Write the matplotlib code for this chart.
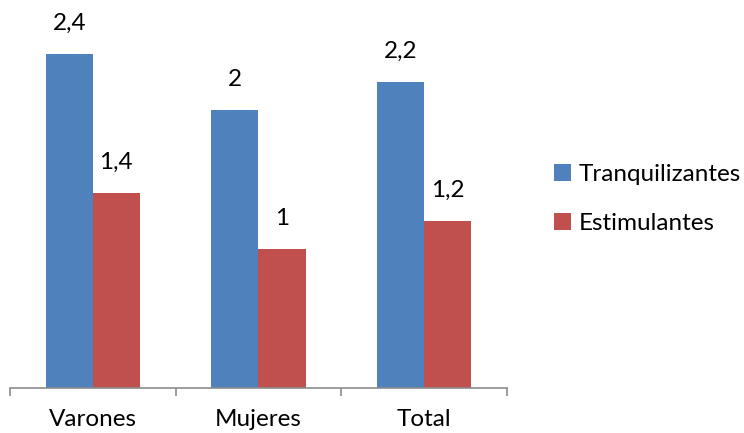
import matplotlib.pyplot as plt
import numpy as np

plt.rcParams['font.family'] = ['Lato', 'DejaVu Sans']

categorias = ["Varones", "Mujeres", "Total"]
tranquilizantes = [2.4, 2.0, 2.2]
estimulantes = [1.4, 1.0, 1.2]
etiquetas_t = ["2,4", "2", "2,2"]
etiquetas_e = ["1,4", "1", "1,2"]

azul = "#4f81bd"
rojo = "#c0504d"

fig = plt.figure(figsize=(7.44, 4.33), dpi=100)
ax = fig.add_axes([10 / 744, 45 / 433, 497 / 744, 388 / 433])

x = np.arange(len(categorias))
w = 0.284
b1 = ax.bar(x - w / 2, tranquilizantes, w, color=azul, label="Tranquilizantes")
b2 = ax.bar(x + w / 2, estimulantes, w, color=rojo, label="Estimulantes")

for bars, labs in [(b1, etiquetas_t), (b2, etiquetas_e)]:
    for r, t in zip(bars, labs):
        ax.annotate(t, (r.get_x() + r.get_width() / 2, r.get_height()),
                    xytext=(0, 22), textcoords="offset points",
                    ha="center", va="center", fontsize=17.5, color="black",
                    annotation_clip=False)

ax.set_xlim(-0.5, len(categorias) - 0.5)
ax.set_ylim(0, 388 / 139.2)

for s in ["top", "right", "left"]:
    ax.spines[s].set_visible(False)
ax.spines["bottom"].set_color("#8c8c8c")
ax.spines["bottom"].set_linewidth(1.2)

ax.set_yticks([])
ax.set_xticks(np.arange(len(categorias) + 1) - 0.5)
ax.set_xticklabels([])
ax.tick_params(axis="x", which="major", length=6, color="#8c8c8c", width=1.2)
ax.set_xticks(x, minor=True)
ax.set_xticklabels(categorias, minor=True, fontsize=17.5)
ax.tick_params(axis="x", which="minor", length=0, pad=15)

ax.legend(loc="center left", bbox_to_anchor=(554 / 744, (433 - 199) / 433),
          bbox_transform=fig.transFigure, frameon=False, fontsize=17.5,
          handlelength=0.7, handleheight=0.7, handletextpad=0.3,
          labelspacing=1.15, borderaxespad=0, borderpad=0)

fig.savefig("out.png", dpi=100)
